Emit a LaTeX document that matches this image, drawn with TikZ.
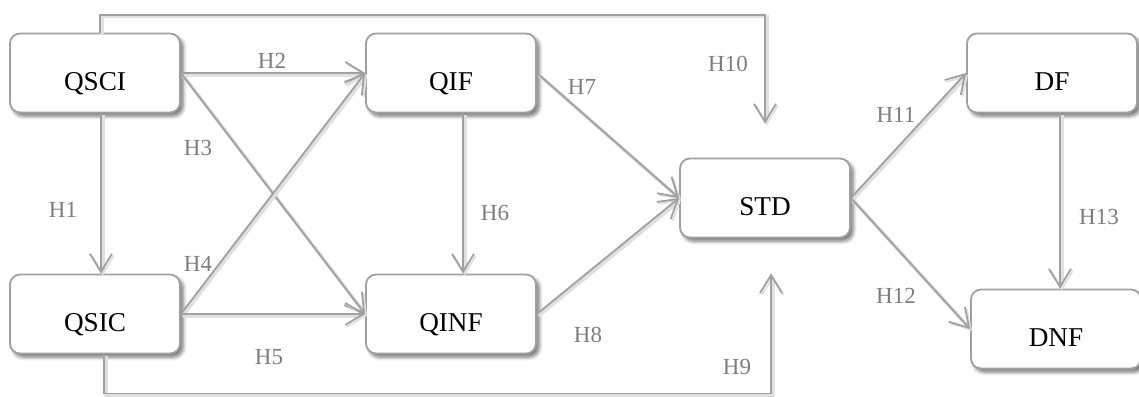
\documentclass[tikz,border=0pt]{standalone}
\usepackage{fontspec}
\setmainfont{Liberation Serif}
\usetikzlibrary{arrows.meta}
\usetikzlibrary{shadows.blur}
\usetikzlibrary{calc}
\definecolor{linegray}{RGB}{160,160,160}
\definecolor{labelgray}{RGB}{125,125,125}

\begin{document}
\begin{tikzpicture}[x=0.5pt, y=-0.5pt,
    box/.style={draw=linegray, line width=0.9pt, rounded corners=5pt, fill=white,
      minimum width=85pt, minimum height=39.5pt, text height=17.5pt, text depth=0pt,
      font=\fontsize{13.6}{16}\selectfont,
      blur shadow={shadow xshift=1.6pt, shadow yshift=-1.8pt, shadow blur steps=6, shadow opacity=55}},
    link/.style={draw=linegray, line width=0.9pt,
      -{Straight Barb[length=9pt, width=11pt, line width=0.9pt]},
      preaction={draw=black!12, line width=1.8pt, transform canvas={xshift=0.9pt, yshift=-0.9pt}}},
    hlabel/.style={text=labelgray, font=\fontsize{11.5}{14}\selectfont, inner sep=0pt}]
    \useasboundingbox (0,0) rectangle (1139,396);
    % Constructs
    \node[box] (qsci) at (95,73) {QSCI};
    \node[box] (qsic) at (95,314) {QSIC};
    \node[box] (qif) at (451,73) {QIF};
    \node[box] (qinf) at (451,314) {QINF};
    \node[box] (std) at (765,198) {STD};
    \node[box] (df) at (1052,73) {DF};
    \node[box] (dnf) at (1056,329) {DNF};

    % Hypotheses
    \draw[link] ([xshift=3pt]qsci.south) -- ([xshift=3pt]qsci.south |- qsic.north);
    \draw[link] (qsci.east) -- (qif.west);
    \draw[link] (qsci.east) -- (qinf.west);
    \draw[link] (qsic.east) -- (qif.west);
    \draw[link] (qsic.east) -- (qinf.west);
    \draw[link] ([xshift=6pt]qif.south) -- ([xshift=6pt]qif.south |- qinf.north);
    \draw[link] (qif.east) -- (std.west);
    \draw[link] (qinf.east) -- (std.west);
    \draw[link] (std.east) -- (df.west);
    \draw[link] (std.east) -- (dnf.west);
    \draw[link] ([xshift=4pt]df.south) -- ([xshift=4pt]df.south |- dnf.north);

    % Direct paths to STD
    \coordinate (std-top) at ([yshift=17pt]std.north);
    \coordinate (std-bot) at ([xshift=3pt,yshift=-17.5pt]std.south);
    \draw[link] ([xshift=2.5pt]qsci.north) -- ++(0,-18) -| (std-top);
    \draw[link] ([xshift=4.5pt]qsic.south) -- ++(0,39) -| (std-bot);

    % Labels
    \foreach \n/\x/\y in {1/63/210, 2/272/61, 3/198/148, 4/198/264, 5/269/357,
        6/495/213, 7/582/87, 8/588/335, 9/737/367, 10/728/64, 11/896/115,
        12/896/296, 13/1099/217}
      \node[hlabel] (h\n) at (\x,\y) {H\n};
  \end{tikzpicture}
\end{document}
